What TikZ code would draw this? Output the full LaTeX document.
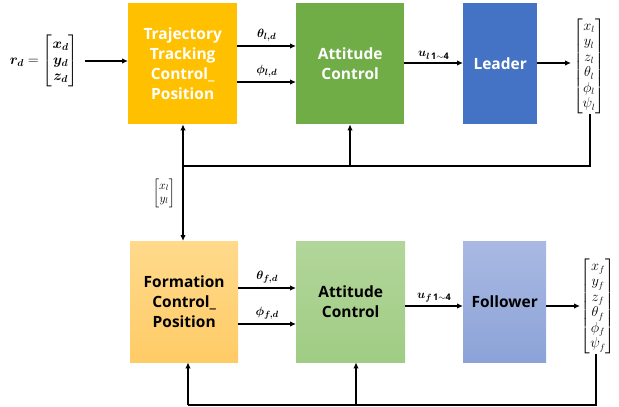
\documentclass[tikz,border=0pt]{standalone}
\usepackage{amsmath,bm}
\usepackage{fontspec}
\setmainfont{Open Sans}
\usetikzlibrary{arrows.meta}
\definecolor{ctraj}{HTML}{FFC000}
\definecolor{catt}{HTML}{70AD47}
\definecolor{clead}{HTML}{4472C4}
\definecolor{cformT}{HTML}{FFDA8C}
\definecolor{cformB}{HTML}{FFCB66}
\definecolor{cattfT}{HTML}{B2D69A}
\definecolor{cattfB}{HTML}{A0CC84}
\definecolor{cfolT}{HTML}{A9B9E2}
\definecolor{cfolB}{HTML}{8CA3D8}
\begin{document}
\begin{tikzpicture}[x=1pt,y=-1pt,
  blk/.style={anchor=north west, align=center, inner sep=2pt,
    font=\fontsize{15.5}{20}\selectfont\bfseries},
  arr/.style={line width=1.4pt, -{Latex[length=6pt,width=5.5pt]}},
  ln/.style={line width=1.4pt},
  lbl/.style={inner sep=0pt, font=\fontsize{13}{15}\selectfont},
  vec/.style={inner sep=0pt, font=\fontsize{13.5}{15.5}\selectfont}]
\useasboundingbox (0,0) rectangle (619,407);
% top row
\node[blk, fill=ctraj, text=white, minimum width=109pt, minimum height=121pt] (traj) at (128,3) {Trajectory\\Tracking\\Control\_\\Position};
\node[blk, fill=catt, text=white, minimum width=108pt, minimum height=121pt] (att) at (296,3) {Attitude\\Control};
\node[blk, fill=clead, text=white, minimum width=74pt, minimum height=121pt] (lead) at (463,3) {Leader};
\node[lbl, font=\fontsize{14}{16}\selectfont] (rd) at (44,61) {$\bm{r_d} = \begin{bmatrix}\bm{x_d}\\ \bm{y_d}\\ \bm{z_d}\end{bmatrix}$};
\node[vec] (lvec) at (589,66) {$\begin{bmatrix}x_l\\ y_l\\ z_l\\ \theta_l\\ \phi_l\\ \psi_l\end{bmatrix}$};
% bottom row
\node[blk, top color=cformT, bottom color=cformB, minimum width=108pt, minimum height=121pt] (form) at (130,241) {Formation\\Control\_\\Position};
\node[blk, top color=cattfT, bottom color=cattfB, minimum width=109pt, minimum height=121pt] (attf) at (296,241) {Attitude\\Control};
\node[blk, top color=cfolT, bottom color=cfolB, minimum width=83pt, minimum height=121pt] (fol) at (463,241) {Follower};
\node[vec] (fvec) at (598,306) {$\begin{bmatrix}x_f\\ y_f\\ z_f\\ \theta_f\\ \phi_f\\ \psi_f\end{bmatrix}$};
% forward arrows top
\draw[arr] (rd.east -| 85,0) -- (traj.west |- rd.east);
\draw[arr] (traj.east |- 0,46) -- node[lbl, above=4pt] {$\bm{\theta_{l,d}}$} (att.west |- 0,46);
\draw[arr] (traj.east |- 0,82) -- node[lbl, above=4pt] {$\bm{\phi_{l,d}}$} (att.west |- 0,82);
\draw[arr] (att.east |- 0,63) -- node[lbl, above=3pt] (ul) {$\bm{u}_{\bm{l}\,\mathbf{1\sim4}}$} (lead.west |- 0,63);
\draw[arr] (lead.east |- 0,63) -- (571,63);
% feedback top
\coordinate (fbt) at (590,166);
\coordinate (jt) at (183,166);
\coordinate (ja) at (350,166);
\draw[ln] (lvec.south -| fbt) -- (fbt) -- (jt);
\draw[arr] (jt) -- (traj.south -| jt);
\draw[arr] (ja) -- (att.south -| ja);
\draw[arr] (jt) -- (form.north -| jt);
\node[vec, font=\fontsize{11.5}{13}\selectfont] (xyl) at (164,193) {$\begin{bmatrix}x_l\\ y_l\end{bmatrix}$};
% forward arrows bottom
\draw[arr] (form.east |- 0,288) -- node[lbl, above=4pt] {$\bm{\theta_{f,d}}$} (attf.west |- 0,288);
\draw[arr] (form.east |- 0,324) -- node[lbl, above=4pt] {$\bm{\phi_{f,d}}$} (attf.west |- 0,324);
\draw[arr] (attf.east |- 0,306) -- node[lbl, above=3pt] {$\bm{u}_{\bm{f}\,\mathbf{1\sim4}}$} (fol.west |- 0,306);
\draw[arr] (fol.east |- 0,306) -- (580,306);
% feedback bottom
\coordinate (fbb) at (596,405);
\coordinate (jb) at (188,405);
\coordinate (jab) at (356,405);
\draw[ln] (fvec.south -| fbb) -- (fbb) -- (jb);
\draw[arr] (jb) -- (form.south -| jb);
\draw[arr] (jab) -- (attf.south -| jab);
\end{tikzpicture}
\end{document}
